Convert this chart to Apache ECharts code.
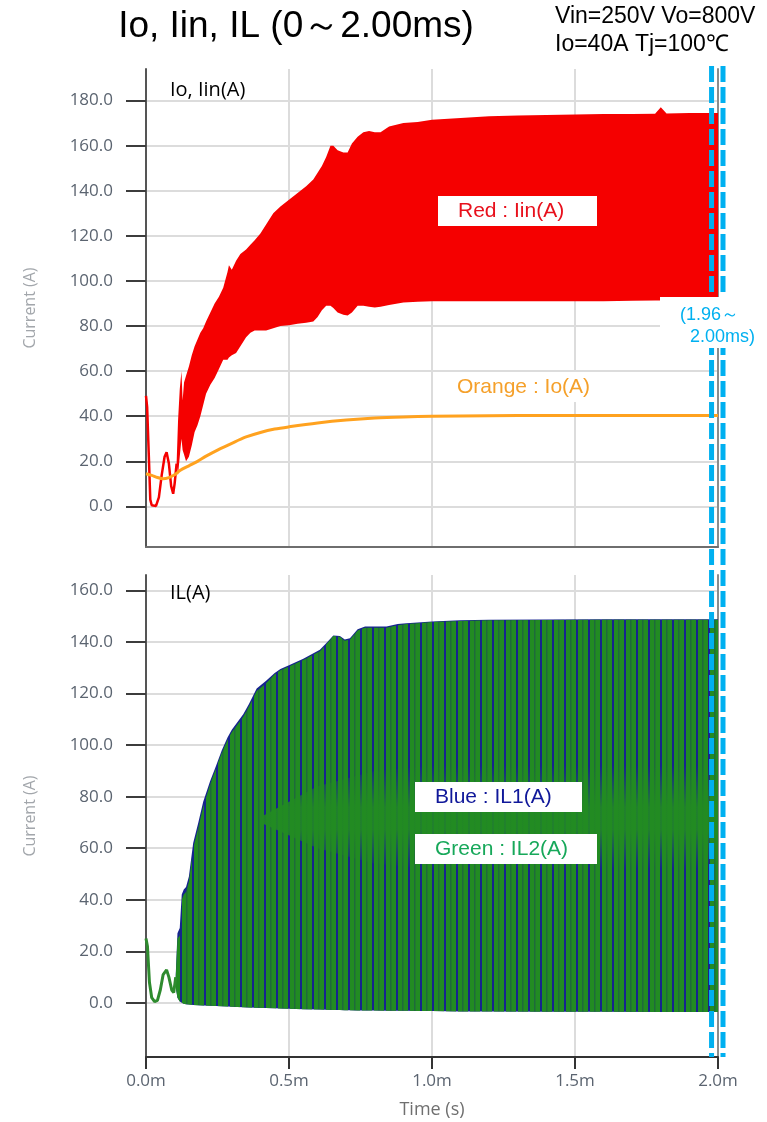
<!DOCTYPE html>
<html>
<head>
<meta charset="utf-8">
<script src="https://cdn.jsdelivr.net/npm/echarts@6/dist/echarts.min.js"></script>
<style>
  html, body { margin: 0; padding: 0; background: #ffffff; }
  #chart { width: 767px; height: 1122px; }
</style>
</head>
<body>
<div id="chart"></div>
<script>
// ---------- axis ticks ----------
const timeTicks = [0, 0.5, 1.0, 1.5, 2.0];            // ms
const topTicks = [0, 20, 40, 60, 80, 100, 120, 140, 160, 180];
const bottomTicks = [0, 20, 40, 60, 80, 100, 120, 140, 160];

// ---------- Iin (A): start-up oscillation before switching begins ----------
const iinStartT = [0, 0.004, 0.01, 0.015, 0.02, 0.035, 0.045, 0.055, 0.065, 0.072, 0.08, 0.088, 0.095, 0.1, 0.107];
const iinStart  = [49, 44, 22, 3, 0.5, 0.2, 4, 14, 22, 24, 19, 9, 5.6, 10, 19];

// ---------- Iin (A): switching ripple envelope ----------
const iinT = [0.107, 0.112, 0.118, 0.124, 0.128, 0.133, 0.14, 0.15, 0.16, 0.17, 0.18, 0.19, 0.2, 0.21,
  0.225, 0.24, 0.255, 0.27, 0.285, 0.29, 0.3, 0.315, 0.33, 0.35, 0.365, 0.38, 0.4, 0.42, 0.445, 0.47,
  0.5, 0.53, 0.56, 0.585, 0.6, 0.615, 0.63, 0.645, 0.655, 0.67, 0.69, 0.705, 0.72, 0.74, 0.76, 0.78,
  0.8, 0.82, 0.85, 0.9, 0.95, 1.0, 1.1, 1.2, 1.3, 1.4, 1.5, 1.6, 1.7, 1.78, 1.8, 1.82, 1.9, 2.0];
const iinUpper = [19, 38, 52, 60, 47, 55, 58, 62, 67, 71, 74, 77, 79, 82,
  86, 90, 93, 97, 104, 107, 105, 109, 112, 114, 116, 118, 121, 125, 130, 133,
  136, 139, 142, 145, 148, 151, 155, 160, 160, 158, 157, 157, 161, 164, 166, 166.5,
  166, 166, 168.5, 170, 170.5, 171.5, 172.3, 173, 173.4, 173.6, 173.8, 174, 174, 174.2, 177, 174.3, 174.5, 174.5];
const iinLower = [19, 14, 22, 30, 25, 23, 20, 22, 27, 33, 36, 40, 45, 50,
  54, 57, 61, 65, 65, 66, 67, 68, 71, 75, 77, 78, 78, 78, 79, 80,
  80.3, 81, 81.5, 82, 84, 87, 89, 89, 88, 86, 85, 84.7, 86, 89, 89, 88.5,
  88.2, 88.5, 89.3, 90.4, 90.8, 91, 91, 91, 91, 91, 91, 91, 91.2, 91.3, 91.3, 91.3, 91.5, 92];

// ---------- Io (A) ----------
const ioT = [0, 0.02, 0.04, 0.06, 0.08, 0.1, 0.12, 0.15, 0.18, 0.21, 0.25, 0.3, 0.35, 0.4, 0.45, 0.5,
  0.6, 0.7, 0.8, 0.9, 1.0, 1.2, 1.4, 1.6, 1.8, 2.0];
const io = [14.5, 13.8, 12.8, 12.3, 12.8, 14, 16, 18, 20, 22.3, 25, 28, 30.8, 32.8, 34.3, 35.3,
  37, 38.3, 39.2, 39.7, 40, 40.2, 40.3, 40.3, 40.3, 40.3];

// ---------- IL (A): start-up oscillation ----------
const ilStartT = [0, 0.005, 0.012, 0.02, 0.03, 0.04, 0.05, 0.06, 0.072, 0.08, 0.09, 0.097, 0.104];
const ilStart  = [25, 22, 8, 2, 0.5, 1, 5, 11, 12.8, 10, 5, 4, 10];

// ---------- IL1 / IL2 (A): switching ripple envelope ----------
const ilT = [0.104, 0.11, 0.118, 0.125, 0.132, 0.14, 0.15, 0.165, 0.183, 0.2, 0.224, 0.245, 0.265, 0.285,
  0.3, 0.32, 0.34, 0.36, 0.387, 0.42, 0.45, 0.47, 0.5, 0.55, 0.608, 0.63, 0.655, 0.678, 0.695, 0.713,
  0.74, 0.766, 0.8, 0.841, 0.88, 0.911, 0.95, 1.0, 1.1, 1.2, 1.4, 1.6, 1.8, 2.0];
const il1Upper = [11, 27, 29, 42, 44, 45, 49, 62, 70, 78, 86, 92, 98, 103,
  106, 109, 112, 116, 122, 125, 128, 129.5, 131, 133.5, 137, 139.5, 142.5, 142.3, 141, 141.5,
  145, 146, 146, 146, 147, 147.3, 147.6, 148, 148.4, 148.6, 148.7, 148.8, 148.8, 148.8];
const il1Lower = [6, 2, 0.5, 0, -0.3, -0.5, -0.6, -0.8, -0.9, -1, -1.1, -1.2, -1.3, -1.4,
  -1.5, -1.6, -1.7, -1.8, -1.9, -2, -2.1, -2.2, -2.3, -2.5, -2.6, -2.7, -2.8, -2.8, -2.9, -2.9,
  -3, -3, -3, -3.1, -3.1, -3.1, -3.2, -3.2, -3.3, -3.3, -3.4, -3.4, -3.5, -3.5];
const il2Upper = [10, 25, 26, 40, 42, 43, 47, 60, 68, 76, 84.7, 91, 97, 102,
  105, 108, 111, 115, 121, 124, 127.5, 129, 130.5, 133, 136.4, 139, 142.3, 142, 140.5, 141,
  144.5, 145.5, 145.5, 145.5, 146.5, 147, 147.3, 147.8, 148.2, 148.4, 148.5, 148.6, 148.6, 148.6];
const il2Lower = [6, 2, 0.5, 0, -0.3, -0.5, -0.6, -0.8, -0.9, -1, -1.1, -1.2, -1.3, -1.4,
  -1.5, -1.6, -1.7, -1.8, -1.9, -2, -2.1, -2.2, -2.3, -2.5, -2.6, -2.7, -2.8, -2.8, -2.9, -2.9,
  -3, -3, -3, -3.1, -3.1, -3.1, -3.2, -3.2, -3.3, -3.3, -3.4, -3.4, -3.5, -3.5];

// ---------- IL: overlap zone where both phases fill the band ----------
const coreT = [0.4, 0.6, 0.8, 1.0, 1.3, 1.6, 2.0];
const coreLow = [70, 60, 54, 52, 52, 52, 52];
const coreHigh = [72, 84, 90, 92, 92, 92, 92];

// ---------- observation window ----------
const windowMs = [1.96, 2.00];

// ---------- helpers ----------
const pairs = (t, v) => t.map((x, i) => [x, v[i]]);

function stripeTexture() {
  const c = document.createElement('canvas');
  c.width = 12; c.height = 8;
  const g = c.getContext('2d');
  g.fillStyle = '#228b22';
  g.fillRect(0, 0, 12, 8);
  g.clearRect(0, 0, 1.6, 8);               // IL1 shows through here
  g.fillStyle = 'rgba(30, 80, 80, 0.55)';
  g.fillRect(6, 0, 1.5, 8);
  return c;
}

// Filled envelope between an upper and a lower trace, placed through the axis scales.
function bandSeries(name, xi, yi, t, hi, lo, fill, z) {
  return {
    type: 'custom', name, xAxisIndex: xi, yAxisIndex: yi, z, silent: true, clip: true,
    data: t.map((x, i) => [x, hi[i], lo[i]]),
    encode: { x: 0, y: [1, 2] },
    renderItem(params, api) {
      if (params.dataIndex !== 0) return null;
      const pts = [];
      for (let i = 0; i < t.length; i++) pts.push(api.coord([t[i], hi[i]]));
      for (let i = t.length - 1; i >= 0; i--) pts.push(api.coord([t[i], lo[i]]));
      return { type: 'polygon', shape: { points: pts }, style: { fill } };
    }
  };
}

const coreFill = {
  type: 'linear', x: 0, y: 0, x2: 0, y2: 1,
  colorStops: [
    { offset: 0, color: 'rgba(34,139,34,0)' },
    { offset: 0.4, color: 'rgba(34,139,34,0.9)' },
    { offset: 0.62, color: 'rgba(34,139,34,0.9)' },
    { offset: 1, color: 'rgba(34,139,34,0)' }
  ]
};

const FONT_AXIS = '"Open Sans", "Noto Sans", sans-serif';
const FONT_TXT = '"Liberation Sans", Arial, sans-serif';

function valueY(gridIndex, min, max, ticks) {
  return {
    type: 'value', gridIndex, min, max, position: 'left',
    axisLine: { show: true, onZero: false, lineStyle: { color: '#555555', width: 2 } },
    axisTick: { show: true, inside: false, length: 20, customValues: ticks, lineStyle: { color: '#3c3c3c', width: 2 } },
    axisLabel: {
      customValues: ticks, margin: 33, color: '#5b6470', fontSize: 17, fontFamily: FONT_AXIS,
      formatter: v => v.toFixed(1)
    },
    splitLine: { show: true, lineStyle: { color: '#dcdcdc', width: 2 } },
    name: 'Current (A)', nameLocation: 'middle', nameGap: 108, nameRotate: 90,
    nameTextStyle: { color: '#a2a6ab', fontSize: 16, fontFamily: FONT_AXIS }
  };
}

function edgeY(gridIndex, min, max) {
  return {
    type: 'value', gridIndex, min, max, position: 'right',
    axisLine: { show: true, onZero: false, lineStyle: { color: '#8c8c8c', width: 2 } },
    axisTick: { show: false }, axisLabel: { show: false }, splitLine: { show: false }
  };
}

const chart = echarts.init(document.getElementById('chart'), null, { renderer: 'canvas' });

const option = {
  animation: false,
  backgroundColor: '#ffffff',
  grid: [
    { left: 146, top: 69, width: 572, height: 478, outerBoundsMode: 'none', containLabel: false },
    { left: 146, top: 575, width: 572, height: 482, outerBoundsMode: 'none', containLabel: false }
  ],
  xAxis: [
    {
      type: 'value', gridIndex: 0, min: 0, max: 2, interval: 0.5,
      axisLine: { show: true, onZero: false, lineStyle: { color: '#6e6e6e', width: 2 } },
      axisTick: { show: false }, axisLabel: { show: false },
      splitLine: { show: true, lineStyle: { color: '#dcdcdc', width: 2 } }
    },
    {
      type: 'value', gridIndex: 1, min: 0, max: 2, interval: 0.5,
      axisLine: { show: true, onZero: false, lineStyle: { color: '#333333', width: 2 } },
      axisTick: { show: true, inside: false, length: 12, lineStyle: { color: '#333333', width: 2 } },
      axisLabel: { margin: 16, color: '#5b6470', fontSize: 17, fontFamily: FONT_AXIS, formatter: v => v.toFixed(1) + 'm' },
      splitLine: { show: true, lineStyle: { color: '#dcdcdc', width: 2 } },
      name: 'Time (s)', nameLocation: 'middle', nameGap: 44,
      nameTextStyle: { color: '#6f6f6f', fontSize: 18, fontFamily: FONT_AXIS }
    }
  ],
  yAxis: [
    valueY(0, -18, 194, topTicks),
    valueY(1, -21, 166, bottomTicks),
    edgeY(0, -18, 194),
    edgeY(1, -21, 166)
  ],
  series: [
    // Iin
    {
      type: 'line', name: 'Iin start', xAxisIndex: 0, yAxisIndex: 0, data: pairs(iinStartT, iinStart),
      showSymbol: false, symbol: 'none', lineStyle: { color: '#f50000', width: 2.5 }, z: 3
    },
    bandSeries('Iin', 0, 0, iinT, iinUpper, iinLower, '#f50000', 3),
    // Io
    {
      type: 'line', name: 'Io', xAxisIndex: 0, yAxisIndex: 0, data: pairs(ioT, io), smooth: 0.3,
      showSymbol: false, symbol: 'none', lineStyle: { color: '#ffa21f', width: 3 }, z: 5
    },
    // IL1 (blue) under IL2 (green)
    bandSeries('IL1', 1, 1, ilT, il1Upper, il1Lower, '#16238f', 3),
    bandSeries('IL2', 1, 1, ilT, il2Upper, il2Lower, { image: stripeTexture(), repeat: 'repeat' }, 4),
    bandSeries('IL overlap', 1, 1, coreT, coreHigh, coreLow, coreFill, 5),
    {
      type: 'line', name: 'IL start', xAxisIndex: 1, yAxisIndex: 1, data: pairs(ilStartT, ilStart),
      showSymbol: false, symbol: 'none', lineStyle: { color: '#2e8b2e', width: 3 }, z: 6
    }
  ]
};

chart.setOption(option);

// ---------- annotations ----------
const winX0 = chart.convertToPixel({ xAxisIndex: 1 }, windowMs[0]) + 5;
const winX1 = chart.convertToPixel({ xAxisIndex: 1 }, windowMs[1]) + 5;
const yTop = 66, yBot = 1057;

const dashStyle = { stroke: '#00b0f0', lineWidth: 5, lineDash: [16, 5] };

function box(x, y, w, h) {
  return { type: 'rect', shape: { x, y, width: w, height: h }, style: { fill: '#ffffff' }, z: 100 };
}
function label(text, x, y, size, color, font, extra) {
  return {
    type: 'text', x, y, z: 101,
    style: Object.assign({ text, fill: color, fontSize: size, fontFamily: font, verticalAlign: 'middle', align: 'left' }, extra || {})
  };
}

chart.setOption({
  graphic: [
    label('Io, Iin, IL (0～2.00ms)', 296, 27, 37, '#000000', FONT_TXT, { align: 'center' }),
    label('Vin=250V Vo=800V', 555, 17, 23, '#000000', FONT_TXT),
    label('Io=40A Tj=100℃', 555, 45, 23, '#000000', FONT_TXT),

    label('Io, Iin(A)', 170, 90, 20, '#000000', FONT_AXIS),
    label('IL(A)', 170, 593, 20, '#000000', FONT_AXIS),

    { type: 'line', z: 90, shape: { x1: winX0, y1: yTop, x2: winX0, y2: yBot }, style: dashStyle },
    { type: 'line', z: 90, shape: { x1: winX1, y1: yTop, x2: winX1, y2: yBot }, style: dashStyle },
    box(660, 297, 107, 51),
    label('(1.96～', 680, 315, 18, '#00b0f0', FONT_TXT),
    label('2.00ms)', 690, 337, 18, '#00b0f0', FONT_TXT),

    box(438, 196, 159, 30),
    label('Red : Iin(A)', 458, 211, 21, '#e8101c', FONT_TXT),
    box(438, 372, 159, 30),
    label('Orange : Io(A)', 457, 387, 21, '#f5a02a', FONT_TXT),
    box(415, 782, 167, 30),
    label('Blue : IL1(A)', 435, 797, 21, '#10189a', FONT_TXT),
    box(415, 834, 182, 30),
    label('Green : IL2(A)', 435, 849, 21, '#17a85a', FONT_TXT)
  ]
});
</script>
</body>
</html>
